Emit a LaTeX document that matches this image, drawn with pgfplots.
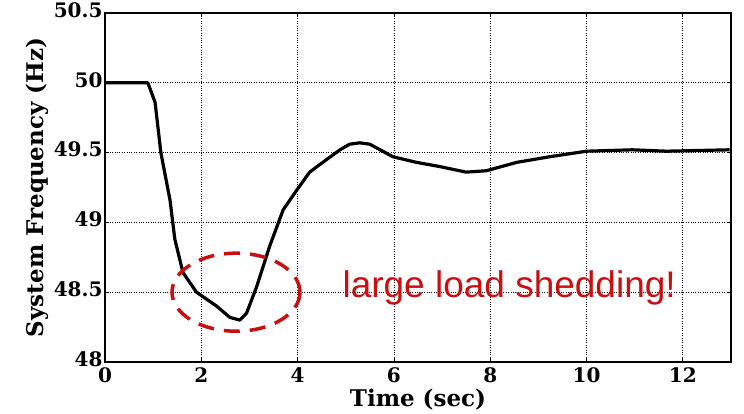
\documentclass[border=0pt]{standalone}
\usepackage{fontspec}
\setmainfont{DejaVu Serif}
\newfontfamily\arialfont{Liberation Sans}
\usepackage{pgfplots}
\pgfplotsset{compat=1.18}
\definecolor{myred}{RGB}{200,16,16}
\begin{document}
\begin{tikzpicture}
\begin{axis}[
  at={(0,0)}, anchor=south west,
  scale only axis, width=626pt, height=349pt,
  xmin=0, xmax=13, ymin=48, ymax=50.5,
  xtick={0,2,...,12}, ytick={48,48.5,...,50.5},
  /pgf/number format/assume math mode=true,
  tick label style={font=\bfseries\fontsize{20}{20}\selectfont},
  xticklabel style={yshift=-2pt},
  yticklabel style={xshift=1pt, yshift=3pt},
  label style={font=\bfseries\fontsize{23}{23}\selectfont},
  xlabel={Time (sec)}, ylabel={System Frequency (Hz)},
  xlabel style={yshift=0pt},
  ylabel style={yshift=-2pt},
  grid=major, major grid style={black, dotted, line width=0.8pt},
  axis line style={line width=1.6pt},
  tick align=inside, major tick length=4pt,
  tick style={black, line width=0.8pt},
  clip=false,
]
\addplot[black, line width=3.2pt, line join=round] coordinates {
(0,50.0) (0.89,50.0) (1.04,49.86) (1.16,49.50) (1.35,49.16) (1.45,48.88)
(1.62,48.64) (1.90,48.50) (2.32,48.40) (2.59,48.32) (2.80,48.30) (2.94,48.35)
(3.15,48.54) (3.42,48.83) (3.70,49.09) (3.98,49.23) (4.25,49.36) (4.60,49.45)
(4.88,49.52) (5.08,49.56) (5.29,49.57) (5.50,49.56) (5.98,49.47) (6.47,49.43)
(6.95,49.40) (7.50,49.36) (7.92,49.37) (8.55,49.43) (9.23,49.47) (10.0,49.51)
(10.95,49.52) (11.66,49.51) (12.97,49.52)
};
\draw[myred, line width=3.5pt, dash pattern=on 16pt off 10pt] (axis cs:2.72,48.5) ellipse [x radius=64pt, y radius=39pt];
\node[myred, anchor=west, font=\arialfont\fontsize{37}{37}\selectfont] at (axis cs:4.86,48.53) {large load shedding!};
\end{axis}
\pgfresetboundingbox
\path (-105pt,-52pt) rectangle (639pt,362pt);
\end{tikzpicture}
\end{document}
